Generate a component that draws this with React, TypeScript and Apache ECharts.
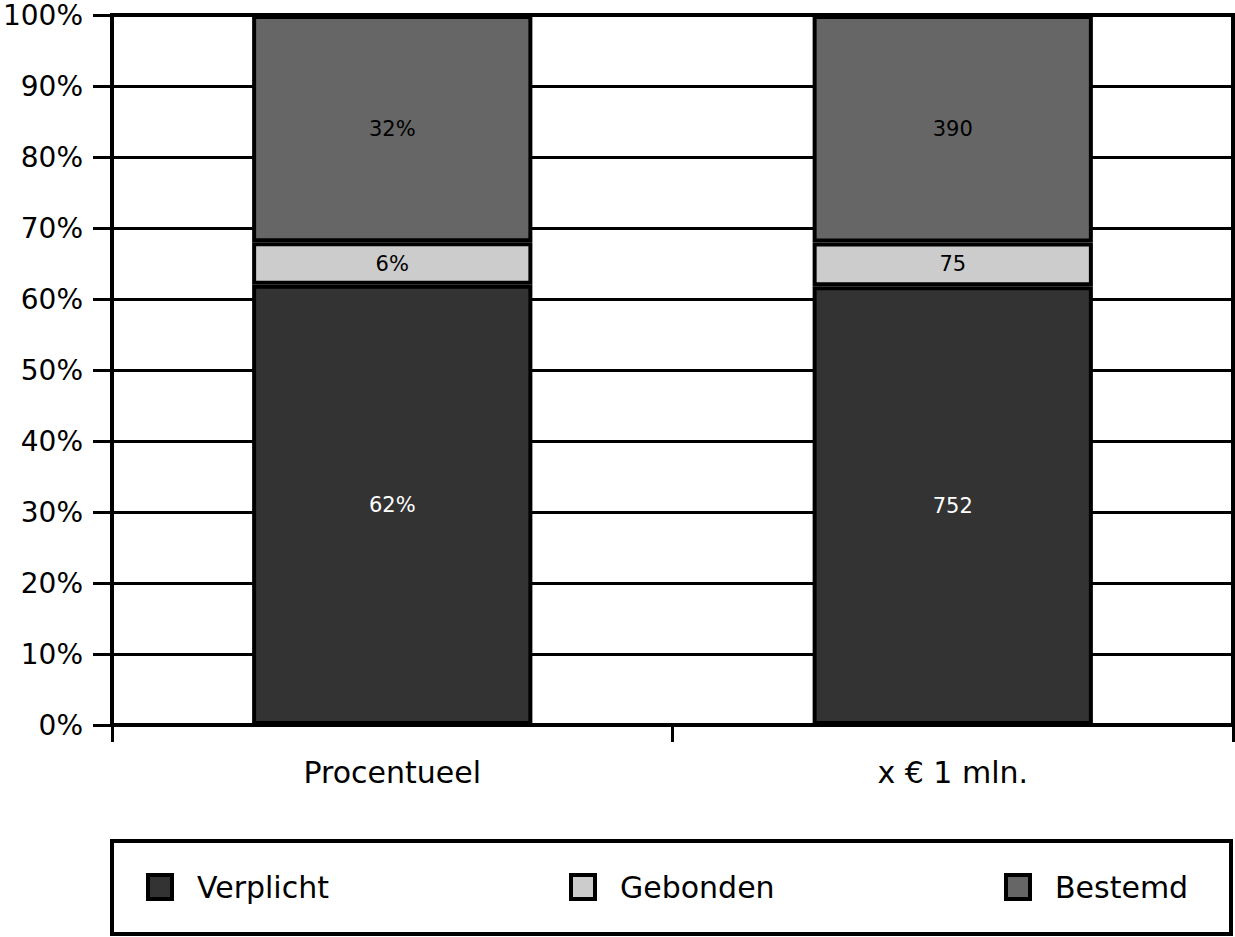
import React, { useEffect, useRef } from "react";
import * as echarts from "echarts";

const categories = ["Procentueel", "x € 1 mln."];
const verplicht = [62, 752];
const gebonden = [6, 75];
const bestemd = [32, 390];
const yTicks = [0, 10, 20, 30, 40, 50, 60, 70, 80, 90, 100];
const seriesNames = ["Verplicht", "Gebonden", "Bestemd"];
const colors = ["#333333", "#cccccc", "#666666"];
const labelColors = ["#ffffff", "#000000", "#000000"];

const FONT = "DejaVu Sans";

export default function App() {
  const ref = useRef<HTMLDivElement>(null);
  useEffect(() => {
    if (!ref.current) return;
    const chart = echarts.init(ref.current, undefined, { renderer: "svg" });
    const raw = [verplicht, gebonden, bestemd];
    const totals = categories.map((_, i) => raw.reduce((s, arr) => s + arr[i], 0));
    const series = raw.map((arr, k) => ({
      name: seriesNames[k],
      type: "bar",
      stack: "total",
      barWidth: "50%",
      data: arr.map((v, i) => ({ value: (v / totals[i]) * 100, raw: v })),
      itemStyle: { color: colors[k], borderColor: "#000", borderWidth: 4 },
      label: {
        show: true,
        position: "inside",
        color: labelColors[k],
        fontFamily: FONT,
        fontSize: 21,
        formatter: (p: any) => (p.dataIndex === 0 ? p.data.raw + "%" : String(p.data.raw)),
      },
    }));
    const legendLefts = [146, 569, 1004];
    chart.setOption({
      animation: false,
      backgroundColor: "#fff",
      grid: {
        left: 112,
        right: 2,
        top: 15,
        bottom: 212,
        outerBoundsMode: "none",
        containLabel: false,
        show: true,
        borderColor: "#000",
        borderWidth: 4,
        backgroundColor: "transparent",
      },
      xAxis: {
        type: "category",
        data: categories,
        axisLine: { show: true, lineStyle: { color: "#000", width: 4 } },
        axisTick: { show: true, length: 17, lineStyle: { color: "#000", width: 3 } },
        axisLabel: { color: "#000", fontFamily: FONT, fontSize: 30, margin: 32 },
      },
      yAxis: {
        type: "value",
        min: yTicks[0],
        max: yTicks[yTicks.length - 1],
        interval: 10,
        axisLine: { show: false },
        axisTick: { show: true, length: 19, lineStyle: { color: "#000", width: 3 } },
        axisLabel: {
          color: "#000",
          fontFamily: FONT,
          fontSize: 28,
          margin: 29,
          formatter: "{value}%",
        },
        splitLine: { show: true, lineStyle: { color: "#000", width: 3 } },
      },
      legend: seriesNames.map((n, k) => ({
        data: [n],
        left: legendLefts[k],
        top: 872,
        padding: 0,
        itemWidth: 24,
        itemHeight: 24,
        icon: "rect",
        itemStyle: { borderColor: "#000", borderWidth: 4 },
        textStyle: { color: "#000", fontFamily: FONT, fontSize: 30, padding: [0, 0, 0, 20] },
        selectedMode: false,
      })),
      graphic: [
        {
          type: "rect",
          shape: { x: 112, y: 841, width: 1119, height: 93 },
          style: { fill: "none", stroke: "#000", lineWidth: 4 },
          z: 0,
        },
      ],
      series,
    });
    return () => chart.dispose();
  }, []);
  return (
    <div
      ref={ref}
      style={{ position: "fixed", left: 0, top: 0, width: 1235, height: 937 }}
    />
  );
}
